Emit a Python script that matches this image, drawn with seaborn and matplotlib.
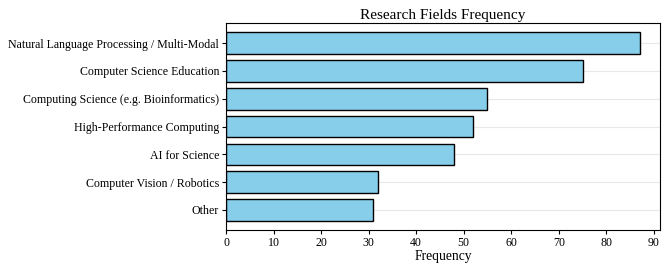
import matplotlib
matplotlib.use("Agg")
import matplotlib.pyplot as plt
import seaborn as sns
import pandas as pd

categories = [
    "Natural Language Processing / Multi-Modal",
    "Computer Science Education",
    "Computing Science (e.g. Bioinformatics)",
    "High-Performance Computing",
    "AI for Science",
    "Computer Vision / Robotics",
    "Other",
]
frequency = [87, 75, 55, 52, 48, 32, 31]

df = pd.DataFrame({"Field": categories, "Frequency": frequency})

sns.set_theme(style="whitegrid")
plt.rcParams["font.family"] = ["Liberation Serif", "DejaVu Serif"]

fig, ax = plt.subplots(figsize=(6.65, 2.65), dpi=100)
sns.barplot(data=df, y="Field", x="Frequency", color="#87CEEB", saturation=1,
            edgecolor="black", linewidth=1.0, width=0.78, ax=ax, orient="h")
ax.set_title("Research Fields Frequency", fontsize=11, pad=3, color="black")
ax.set_xlabel("Frequency", fontsize=9.8, labelpad=1, color="black")
ax.set_ylabel("")
ax.set_xlim(0, 91.3)
ax.set_ylim(len(categories) - 1 + 0.72, -0.72)
ax.set_xticks(range(0, 91, 10))
ax.tick_params(axis="both", labelsize=8.6, length=3, width=0.8, color="black",
               labelcolor="black", pad=2)
ax.tick_params(axis="x", bottom=True)
ax.tick_params(axis="y", left=True)
ax.grid(axis="x", visible=False)
ax.grid(axis="y", color="#e8e8e8", linewidth=0.8)
for s in ax.spines.values():
    s.set_color("black")
    s.set_linewidth(0.8)
fig.subplots_adjust(left=0.34, right=0.9925, top=0.913, bottom=0.132)
fig.savefig("out.png", dpi=100)
